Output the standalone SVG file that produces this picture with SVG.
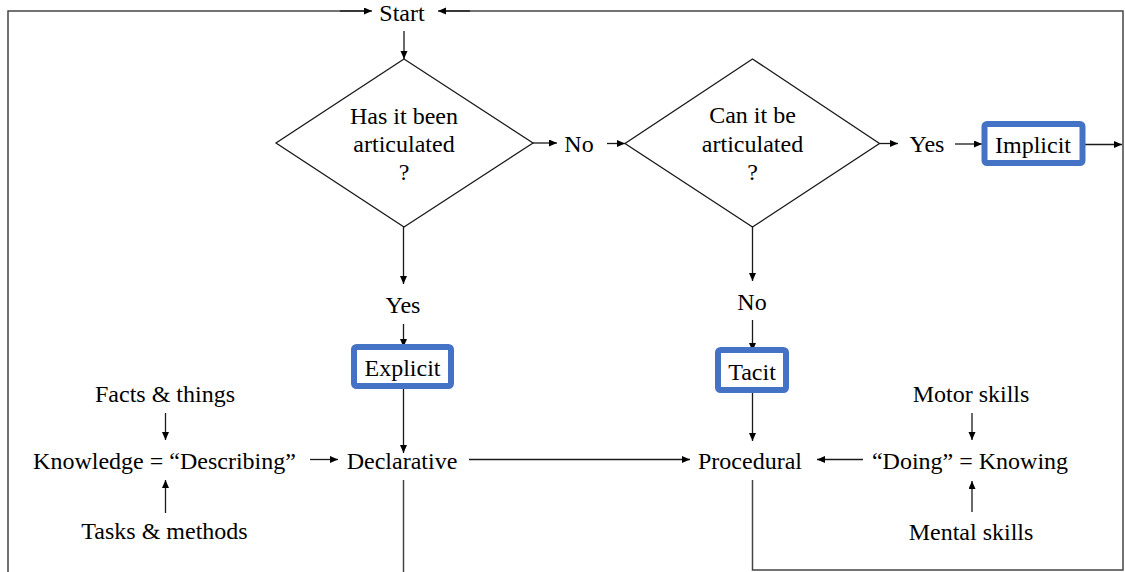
<svg xmlns="http://www.w3.org/2000/svg" width="1125" height="572" viewBox="0 0 1125 572">
  <style>
    .t { font-family: "Liberation Serif", "Times New Roman", serif; font-size: 24px; fill: #000; text-anchor: middle; }
    .ln { fill: none; stroke: #1a1a1a; stroke-width: 1.3; }
    .arr { fill: none; stroke: #1a1a1a; stroke-width: 1.3; marker-end: url(#ah); }
    .frame { fill: none; stroke: #444; stroke-width: 1.5; }
    .dia { fill: #fff; stroke: #1a1a1a; stroke-width: 1.3; }
    .box { fill: #fff; stroke: #4472C4; stroke-width: 6; }
  </style>
  <defs>
    <marker id="ah" markerUnits="userSpaceOnUse" markerWidth="9" markerHeight="8" refX="8" refY="3.5" orient="auto">
      <path d="M0,0 L8,3.5 L0,7 z" fill="#000"/>
    </marker>
  </defs>
  <rect width="1125" height="572" fill="#fff"/>

  <!-- connectors -->
  <g id="connectors">
    <!-- outer loop back to Start -->
    <polyline class="frame" points="8,572 8,11 364,11" />
    <line class="arr" x1="340" y1="11" x2="372" y2="11"/>
    <polyline class="frame" points="752.5,480 752.5,570 1123,570 1123,11 446,11"/>
    <line class="arr" x1="470" y1="11" x2="438" y2="11"/>
    <!-- Start to first question -->
    <line class="arr" x1="404" y1="31" x2="404" y2="59"/>
    <!-- first question -->
    <line class="arr" x1="533" y1="143" x2="557" y2="143"/>
    <line class="arr" x1="607" y1="143.5" x2="625" y2="143.5"/>
    <line class="arr" x1="403.5" y1="227" x2="403.5" y2="284"/>
    <line class="arr" x1="403.5" y1="324" x2="403.5" y2="347"/>
    <!-- second question -->
    <line class="arr" x1="879.5" y1="143.5" x2="898" y2="143.5"/>
    <line class="arr" x1="955" y1="144" x2="982" y2="144"/>
    <line class="arr" x1="1085" y1="144.5" x2="1122" y2="144.5"/>
    <line class="arr" x1="752.5" y1="227" x2="752.5" y2="281"/>
    <line class="arr" x1="752.5" y1="320" x2="752.5" y2="351"/>
    <!-- into Declarative / Procedural -->
    <line class="arr" x1="403.5" y1="389" x2="403.5" y2="453"/>
    <line class="arr" x1="752.5" y1="393" x2="752.5" y2="441"/>
    <line class="arr" x1="310" y1="459.5" x2="338" y2="459.5"/>
    <line class="arr" x1="469" y1="459.5" x2="690" y2="459.5"/>
    <line class="arr" x1="863" y1="459.5" x2="817" y2="459.5"/>
    <!-- describing / knowing inputs -->
    <line class="arr" x1="165.5" y1="413" x2="165.5" y2="440"/>
    <line class="arr" x1="165.5" y1="513" x2="165.5" y2="480"/>
    <line class="arr" x1="972" y1="413" x2="972" y2="440"/>
    <line class="arr" x1="972" y1="512" x2="972" y2="481"/>
    <!-- Declarative continues down -->
    <line class="frame" x1="403.5" y1="480" x2="403.5" y2="572"/>
  </g>

  <g id="start"><text class="t" x="402" y="21">Start</text></g>

  <g id="q-articulated">
    <polygon class="dia" points="404,59 533,143 404,227 276,143"/>
    <text class="t" x="404" y="123.5">Has it been</text>
    <text class="t" x="404" y="151.5">articulated</text>
    <text class="t" x="404" y="180">?</text>
  </g>

  <g id="q-can-articulate">
    <polygon class="dia" points="752.5,59 879.5,143.5 752.5,227 625,143.5"/>
    <text class="t" x="752.5" y="123">Can it be</text>
    <text class="t" x="752.5" y="151.5">articulated</text>
    <text class="t" x="752.5" y="180">?</text>
  </g>

  <g id="lbl-no-1"><text class="t" x="579" y="152">No</text></g>
  <g id="lbl-yes-1"><text class="t" x="927" y="152">Yes</text></g>
  <g id="lbl-yes-2"><text class="t" x="403" y="313">Yes</text></g>
  <g id="lbl-no-2"><text class="t" x="752" y="310">No</text></g>

  <g id="implicit">
    <rect class="box" x="984.5" y="124" width="98" height="39" rx="2.5"/>
    <text class="t" x="1033" y="152.5">Implicit</text>
  </g>
  <g id="explicit">
    <rect class="box" x="354" y="347" width="97" height="39" rx="2.5"/>
    <text class="t" x="402.5" y="376">Explicit</text>
  </g>
  <g id="tacit">
    <rect class="box" x="718" y="350" width="68" height="40" rx="2.5"/>
    <text class="t" x="752" y="380">Tacit</text>
  </g>

  <g id="declarative"><text class="t" x="402" y="469">Declarative</text></g>
  <g id="procedural"><text class="t" x="750" y="469">Procedural</text></g>

  <g id="describing"><text class="t" x="164.5" y="469">Knowledge = “Describing”</text></g>
  <g id="facts"><text class="t" x="165" y="402">Facts &amp; things</text></g>
  <g id="tasks"><text class="t" x="164.5" y="539">Tasks &amp; methods</text></g>

  <g id="doing"><text class="t" x="970" y="469">“Doing” = Knowing</text></g>
  <g id="motor"><text class="t" x="971" y="402">Motor skills</text></g>
  <g id="mental"><text class="t" x="971" y="540">Mental skills</text></g>
</svg>
